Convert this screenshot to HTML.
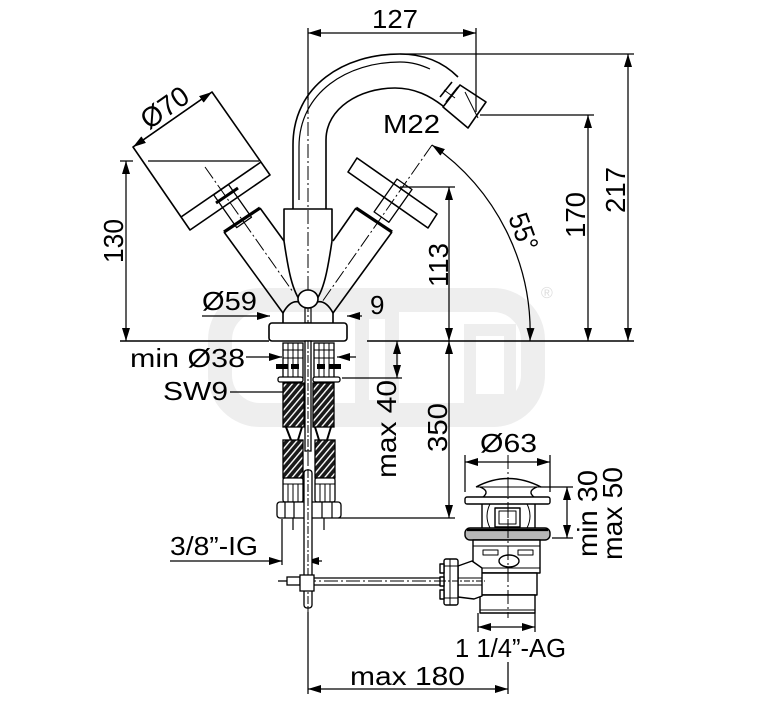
<!DOCTYPE html>
<html><head><meta charset="utf-8">
<style>
html,body{margin:0;padding:0;background:#fff;}
svg{display:block;}
text{font-family:"Liberation Sans",Arial,sans-serif;font-size:26px;fill:#000;}
.r{font-size:28px;}
</style></head><body>
<svg width="767" height="709" viewBox="0 0 767 709" xmlns="http://www.w3.org/2000/svg">
<defs>
<marker id="a" viewBox="0 0 13 8" refX="13" refY="4" markerWidth="13" markerHeight="8" markerUnits="userSpaceOnUse" orient="auto-start-reverse"><path d="M0,0L13,4L0,8z" fill="#000"/></marker>
<pattern id="h" width="5" height="5" patternUnits="userSpaceOnUse" patternTransform="rotate(40)"><rect width="5" height="5" fill="#1a1a1a"/><rect x="0" y="0" width="1.4" height="5" fill="#fff"/></pattern>
</defs>

<!-- watermark -->
<g fill="none" stroke="#eeeeee">
<rect x="220" y="300" width="313" height="115" rx="40" stroke-width="24"/>
<rect x="362" y="312" width="30" height="95" stroke-width="14"/>
<rect x="470" y="330" width="40" height="70" stroke-width="12"/>
</g>
<text x="541" y="298" style="font-size:16px;fill:#dddddd">®</text>

<!-- dimension lines -->
<g stroke="#000" stroke-width="1.25" fill="none">
<line x1="308" y1="28" x2="308" y2="100"/>
<line x1="476" y1="28" x2="476" y2="112"/>
<line x1="308" y1="33" x2="476" y2="33" marker-start="url(#a)" marker-end="url(#a)"/>

<line x1="400" y1="54" x2="634" y2="54"/>
<line x1="628" y1="54" x2="628" y2="341" marker-start="url(#a)" marker-end="url(#a)"/>

<line x1="480" y1="115" x2="594" y2="115"/>
<line x1="588" y1="115" x2="588" y2="341" marker-start="url(#a)" marker-end="url(#a)"/>

<line x1="400" y1="187" x2="455" y2="187"/>
<line x1="449" y1="187" x2="449" y2="341" marker-start="url(#a)" marker-end="url(#a)"/>

<line x1="120" y1="341" x2="269" y2="341" stroke-width="1.5"/>
<line x1="367" y1="341" x2="634" y2="341" stroke-width="1.5"/>

<line x1="120" y1="161" x2="133" y2="161"/>
<line x1="148" y1="161" x2="259" y2="161"/>
<line x1="126" y1="161" x2="126" y2="341" marker-start="url(#a)" marker-end="url(#a)"/>

<line x1="338" y1="518" x2="455" y2="518"/>
<line x1="449" y1="341" x2="449" y2="518" marker-start="url(#a)" marker-end="url(#a)"/>

<line x1="342" y1="378" x2="402" y2="378"/>
<line x1="397" y1="341" x2="397" y2="378" marker-start="url(#a)" marker-end="url(#a)"/>

<line x1="133" y1="147" x2="212" y2="92" marker-start="url(#a)" marker-end="url(#a)"/>
<path d="M432,145 A228,228 0 0,1 530,341" marker-start="url(#a)" marker-end="url(#a)"/>

<line x1="202" y1="316" x2="270" y2="316" marker-end="url(#a)"/>
<line x1="362" y1="316" x2="347" y2="316" marker-end="url(#a)"/>
<line x1="246" y1="357" x2="282" y2="357" marker-end="url(#a)"/>
<line x1="356" y1="357" x2="337" y2="357" marker-end="url(#a)"/>
<line x1="230" y1="392" x2="302" y2="392" marker-end="url(#a)"/>

<line x1="465" y1="455" x2="465" y2="492"/>
<line x1="550" y1="455" x2="550" y2="492"/>
<line x1="465" y1="462" x2="550" y2="462" marker-start="url(#a)" marker-end="url(#a)"/>

<line x1="540" y1="487" x2="573" y2="487"/>
<line x1="552" y1="538" x2="573" y2="538"/>
<line x1="567" y1="487" x2="567" y2="538" marker-start="url(#a)" marker-end="url(#a)"/>

<line x1="478" y1="613" x2="478" y2="632"/>
<line x1="535" y1="613" x2="535" y2="632"/>
<line x1="478" y1="627" x2="535" y2="627" marker-start="url(#a)" marker-end="url(#a)"/>

<line x1="308" y1="612" x2="308" y2="694"/>
<line x1="508" y1="662" x2="508" y2="694"/>
<line x1="308" y1="689" x2="508" y2="689" marker-start="url(#a)" marker-end="url(#a)"/>

<line x1="282" y1="519" x2="282" y2="565"/>
<line x1="170" y1="561" x2="282" y2="561" marker-end="url(#a)"/>
<line x1="322" y1="561" x2="306" y2="561" marker-end="url(#a)"/>
</g>

<!-- center lines -->
<g stroke="#000" stroke-width="1" fill="none" stroke-dasharray="14,3,2,3">
<line x1="308" y1="100" x2="308" y2="622"/>
<line x1="205" y1="167" x2="293" y2="292"/>
<line x1="432" y1="145" x2="322" y2="302"/>
<line x1="508" y1="455" x2="508" y2="618"/>
<line x1="280" y1="581" x2="485" y2="581"/>
</g>

<!-- faucet drawing -->
<g stroke="#000" stroke-width="1.6" fill="none" stroke-linejoin="round">
<path d="M293,209 L293,145 C293,85 345,54 400,54 C425,54 444,63 458,77"/>
<path d="M299,200 L299,147 C299,92 348,62 400,62 C412,62 421,65 430,69" stroke-width="1.2"/>
<path d="M326,209 L326,140 C326,108 360,88 395,88 C415,88 430,96 443,106"/>
<polygon points="443,107 460,85 486,102 468,128"/>
<line x1="465" y1="92" x2="478" y2="118" stroke-width="1"/>
<line x1="440" y1="97" x2="452" y2="82"/>
<line x1="446" y1="102" x2="458" y2="87"/>
<line x1="444" y1="90" x2="455" y2="98" stroke-width="1"/>

<!-- right knob -->
<polygon points="357,158 437,214 428,228 348,172"/>
<polygon points="397,179 412,189.5 388.9,222.3 374.1,211.9" stroke-width="1.3"/>
<line x1="356" y1="208" x2="392" y2="232" stroke-width="3.2"/>
<line x1="356" y1="208" x2="333" y2="241"/>
<line x1="392" y1="232" x2="333" y2="313"/>

<!-- left knob -->
<polygon points="133,147 212,92 270,175 190,230"/>
<line x1="181" y1="217" x2="261" y2="162"/>
<polygon points="213.7,194.9 228.5,184.5 251.5,217.2 236.7,227.6" stroke-width="1.3"/>
<line x1="216" y1="203" x2="238" y2="188" stroke-width="3"/>
<line x1="224" y1="232" x2="260" y2="208" stroke-width="3.2"/>
<line x1="224" y1="232" x2="283" y2="313"/>
<line x1="260" y1="208" x2="284" y2="241"/>

<!-- body -->
<path d="M284,241 L284,209 L332,209 L332,241"/>
<path d="M284,241 C288,268 292,292 302,303"/>
<path d="M332,241 C328,268 324,292 314,303"/>
<ellipse cx="308" cy="299" rx="10" ry="9" fill="#fff"/>
<path d="M283,313 Q290,300 299,302"/>
<path d="M333,313 Q326,300 317,302"/>
<line x1="283" y1="313" x2="283" y2="323"/>
<line x1="333" y1="313" x2="333" y2="323"/>
<rect x="305" y="308" width="6" height="15" stroke-width="1.2"/>
<rect x="269" y="323" width="78" height="18" rx="3" fill="#fff"/>
</g>

<!-- under-counter parts -->
<g stroke="#000" stroke-width="1.3" fill="none">
<rect x="283" y="343" width="20" height="35" fill="#fff"/>
<rect x="314" y="343" width="20" height="35" fill="#fff"/>
<path d="M288,343V378M293,343V378M298,343V378M319,343V378M324,343V378M329,343V378M283,350H303M283,358H303M314,350H334M314,358H334" stroke-width="1"/>
<rect x="305" y="341" width="6" height="110" fill="#fff"/>
<line x1="308" y1="341" x2="308" y2="451" stroke-dasharray="8,2,2,2" stroke-width="1"/>
<rect x="278" y="377" width="25" height="5" rx="2" fill="#fff"/>
<rect x="313" y="377" width="27" height="5" rx="2" fill="#fff"/>
<rect x="283" y="383" width="21" height="44" fill="url(#h)"/>
<rect x="313" y="383" width="21" height="44" fill="url(#h)"/>
<path d="M286,427L291,440M302,427L298,440M331,427L327,440M315,427L319,440" stroke-width="2"/>
<rect x="283" y="440" width="20" height="38" fill="url(#h)"/>
<rect x="315" y="440" width="20" height="38" fill="url(#h)"/>
<rect x="283" y="478" width="20" height="24" rx="2" fill="#fff"/>
<rect x="315" y="478" width="20" height="24" rx="2" fill="#fff"/>
<path d="M283,484H303M315,484H335M288,484V502M293,484V502M298,484V502M320,484V502M325,484V502M330,484V502" stroke-width="1"/>
<rect x="277" y="502" width="64" height="16" rx="3" fill="#fff"/>
<path d="M285,502V518M294,502V518M322,502V518M332,502V518M293,518V530M324,518V530" stroke-width="1.2"/>
<rect x="304" y="470" width="8" height="138" rx="3" fill="#fff"/>
<line x1="308" y1="470" x2="308" y2="608" stroke-dasharray="8,2,2,2" stroke-width="1"/>
<line x1="278" y1="581" x2="287" y2="581"/>
<rect x="287" y="577" width="13" height="8" fill="#fff"/>
<line x1="314" y1="578" x2="442" y2="578"/>
<line x1="314" y1="585" x2="442" y2="585"/>
<rect x="300" y="575" width="14" height="16" fill="#fff"/>
</g>
<g fill="#000">
<rect x="276" y="364" width="12" height="5"/>
<rect x="291" y="364" width="8" height="5"/>
<rect x="317" y="364" width="8" height="5"/>
<rect x="329" y="364" width="12" height="5"/>
</g>

<!-- drain -->
<g stroke="#000" stroke-width="1.4" fill="none" stroke-linejoin="round">
<path d="M476,487 Q508,470 541,487"/>
<line x1="476" y1="487" x2="541" y2="487" stroke-width="1"/>
<path d="M480,487 C488,490 487,494 483,497"/>
<path d="M537,487 C529,490 530,494 534,497"/>
<rect x="465" y="497" width="85" height="7" rx="2" fill="#fff"/>
<path d="M482,504V528M535,504V528"/>
<path d="M490,504 C486,512 486,520 490,528M527,504 C531,512 531,520 527,528" stroke-width="1"/>
<rect x="495" y="508" width="25" height="19"/>
<rect x="499" y="511" width="17" height="13" stroke-width="1"/>
<rect x="465" y="528" width="85" height="12" rx="5" fill="#b8b8b8"/>
<line x1="467" y1="530" x2="548" y2="530" stroke-width="2.2"/>
<rect x="473" y="540" width="67" height="33" fill="#fff"/>
<line x1="473" y1="546" x2="540" y2="546" stroke-width="1"/>
<rect x="483" y="550" width="15" height="5" stroke-width="1"/>
<rect x="518" y="550" width="15" height="5" stroke-width="1"/>
<ellipse cx="509" cy="561" rx="10" ry="6"/>
<line x1="473" y1="568" x2="540" y2="568" stroke-width="1"/>
<rect x="478" y="573" width="59" height="22" fill="#fff"/>
<rect x="480" y="595" width="55" height="18" fill="#fff"/>
<line x1="480" y1="610" x2="535" y2="610" stroke-width="1"/>
<polygon points="458,566 472,561 482,568 482,596 474,599 458,597" fill="#fff"/>
<line x1="458" y1="578" x2="482" y2="578" stroke-width="1"/>
<line x1="458" y1="585" x2="482" y2="585" stroke-width="1"/>
<rect x="444" y="559" width="14" height="46" rx="2" fill="#fff"/>
<rect x="440" y="564" width="4" height="9" fill="#fff"/>
<rect x="440" y="577" width="4" height="9" fill="#fff"/>
<rect x="440" y="590" width="4" height="9" fill="#fff"/>
<path d="M450,559V605M444,566H458M444,598H458" stroke-width="1"/>
</g>
<line x1="440" y1="581" x2="485" y2="581" stroke="#000" stroke-width="1" stroke-dasharray="6,2,2,2"/>
<line x1="508" y1="480" x2="508" y2="616" stroke="#000" stroke-width="1" stroke-dasharray="14,3,2,3"/>

<!-- texts -->
<text x="372" y="28" textLength="46" lengthAdjust="spacingAndGlyphs">127</text>
<text x="383" y="133" textLength="57" lengthAdjust="spacingAndGlyphs">M22</text>
<text class="r" transform="translate(625,213) rotate(-90)" textLength="46" lengthAdjust="spacingAndGlyphs">217</text>
<text class="r" transform="translate(585,238) rotate(-90)" textLength="46" lengthAdjust="spacingAndGlyphs">170</text>
<text class="r" transform="translate(448,287) rotate(-90)" textLength="44" lengthAdjust="spacingAndGlyphs">113</text>
<text class="r" transform="translate(123,263) rotate(-90)" textLength="44" lengthAdjust="spacingAndGlyphs">130</text>
<text class="r" transform="translate(396,478) rotate(-90)" textLength="98" lengthAdjust="spacingAndGlyphs">max 40</text>
<text class="r" transform="translate(447,452) rotate(-90)" textLength="49" lengthAdjust="spacingAndGlyphs">350</text>
<text class="r" transform="translate(597,557) rotate(-90)" textLength="87" lengthAdjust="spacingAndGlyphs">min 30</text>
<text class="r" transform="translate(622,560) rotate(-90)" textLength="93" lengthAdjust="spacingAndGlyphs">max 50</text>
<text class="r" transform="translate(165,108) rotate(-35)" x="0" y="9" text-anchor="middle" textLength="52" lengthAdjust="spacingAndGlyphs">Ø70</text>
<text class="r" transform="translate(523,232) rotate(70)" x="0" y="9" text-anchor="middle" textLength="38" lengthAdjust="spacingAndGlyphs">55°</text>
<text x="202" y="310" textLength="55" lengthAdjust="spacingAndGlyphs">Ø59</text>
<text x="370" y="314">9</text>
<text x="130" y="367" textLength="115" lengthAdjust="spacingAndGlyphs">min Ø38</text>
<text x="163" y="400" textLength="65" lengthAdjust="spacingAndGlyphs">SW9</text>
<text x="480" y="452" textLength="57" lengthAdjust="spacingAndGlyphs">Ø63</text>
<text x="455" y="657" textLength="111" lengthAdjust="spacingAndGlyphs">1 1/4”-AG</text>
<text x="350" y="685" textLength="115" lengthAdjust="spacingAndGlyphs">max 180</text>
<text x="170" y="555" textLength="88" lengthAdjust="spacingAndGlyphs">3/8”-IG</text>
</svg>
</body></html>
